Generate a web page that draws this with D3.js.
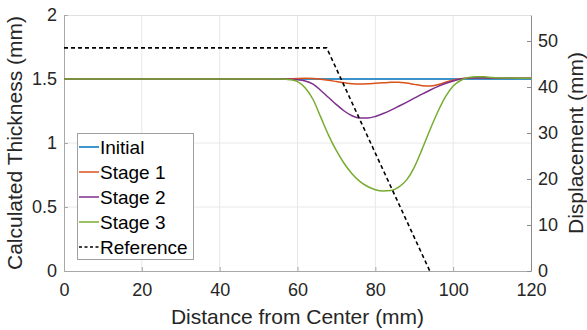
<!DOCTYPE html>
<html>
<head>
<meta charset="utf-8">
<script src="https://cdn.jsdelivr.net/npm/d3@7"></script>
<style>
  html, body { margin: 0; padding: 0; background: #fff; }
  svg { display: block; font-family: "Liberation Sans", Arial, Helvetica, sans-serif; }
</style>
</head>
<body>
<svg id="chart" width="587" height="330"></svg>
<script>
// Distance from center (mm) sampled for the thickness profiles
const distance = [0, 50, 56, 58, 60, 62, 64, 66, 68, 70, 72, 74, 76, 78, 80, 82, 84, 86, 88, 90,
                  92, 94, 96, 98, 100, 102, 104, 106, 108, 110, 115, 120];

// Calculated thickness (mm) per forming stage
const initial = distance.map(() => 1.5);
const stage1 = [1.5, 1.5, 1.5, 1.502, 1.504, 1.505, 1.503, 1.498, 1.49, 1.48, 1.47, 1.462, 1.46, 1.462,
                1.466, 1.47, 1.474, 1.475, 1.468, 1.458, 1.448, 1.445, 1.455, 1.475, 1.49, 1.502,
                1.508, 1.51, 1.509, 1.507, 1.505, 1.505];
const stage2 = [1.5, 1.5, 1.5, 1.498, 1.495, 1.485, 1.46, 1.41, 1.355, 1.30, 1.25, 1.213, 1.195, 1.195,
                1.207, 1.23, 1.257, 1.287, 1.318, 1.35, 1.382, 1.412, 1.44, 1.465, 1.485, 1.50,
                1.508, 1.51, 1.509, 1.507, 1.505, 1.505];
const stage3 = [1.5, 1.5, 1.5, 1.495, 1.48, 1.43, 1.34, 1.2, 1.06, 0.94, 0.84, 0.76, 0.70, 0.66,
                0.635, 0.625, 0.628, 0.655, 0.71, 0.81, 0.95, 1.10, 1.24, 1.36, 1.445, 1.49,
                1.512, 1.518, 1.517, 1.512, 1.507, 1.505];

// Reference displacement path (mm), right axis
const refDistance = [0, 67.5, 94];
const refDisplacement = [48.5, 48.5, 0];

// Axis ticks
const xTicks = [0, 20, 40, 60, 80, 100, 120];
const yLeftTicks = [0, 0.5, 1, 1.5, 2];
const yRightTicks = [0, 10, 20, 30, 40, 50];

const series = [
  { name: "Initial", values: initial, color: "#0072BD" },
  { name: "Stage 1", values: stage1, color: "#D95319" },
  { name: "Stage 2", values: stage2, color: "#7E2F8E" },
  { name: "Stage 3", values: stage3, color: "#77AC30" }
];

const margin = { left: 64, right: 56, top: 15, bottom: 59 };
const W = 587, H = 330;
const iw = W - margin.left - margin.right;
const ih = H - margin.top - margin.bottom;

const svg = d3.select("#chart");
const g = svg.append("g").attr("transform", `translate(${margin.left},${margin.top})`);

const x = d3.scaleLinear().domain([0, 120]).range([0, iw]);
const yL = d3.scaleLinear().domain([0, 2]).range([ih, 0]);
const yR = d3.scaleLinear().domain([0, 55.65]).range([ih, 0]);

const textColor = "#262626";

// Grid
g.append("g").selectAll("line").data(xTicks.slice(1, -1)).join("line")
  .attr("x1", d => x(d)).attr("x2", d => x(d)).attr("y1", 0).attr("y2", ih)
  .attr("stroke", "#e8e8e8").attr("stroke-width", 1);
g.append("g").selectAll("line").data(yLeftTicks.slice(1, -1)).join("line")
  .attr("y1", d => yL(d)).attr("y2", d => yL(d)).attr("x1", 0).attr("x2", iw)
  .attr("stroke", "#e8e8e8").attr("stroke-width", 1);

// Top border of the box
g.append("line").attr("x1", 0).attr("x2", iw).attr("y1", 0.5).attr("y2", 0.5)
  .attr("stroke", "#e0e0e0");

// Axes
function styleAxis(sel, color) {
  sel.select(".domain").attr("stroke", color);
  sel.selectAll(".tick line").attr("stroke", color);
  sel.selectAll(".tick text").attr("fill", textColor).attr("font-size", 18);
}
const xAxis = g.append("g").attr("transform", `translate(0,${ih})`)
  .call(d3.axisBottom(x).tickValues(xTicks).tickSizeInner(-4).tickSizeOuter(0).tickPadding(12));
styleAxis(xAxis, "#a8a8a8");

const yAxisL = g.append("g")
  .call(d3.axisLeft(yL).tickValues(yLeftTicks).tickFormat(d3.format("")).tickSizeInner(-4).tickSizeOuter(0).tickPadding(7));
styleAxis(yAxisL, "#a8a8a8");

const yAxisR = g.append("g").attr("transform", `translate(${iw},0)`)
  .call(d3.axisRight(yR).tickValues(yRightTicks).tickSizeInner(-4).tickSizeOuter(0).tickPadding(7));
styleAxis(yAxisR, "#8a8a8a");

// Axis titles
svg.append("text").attr("x", margin.left + iw / 2).attr("y", 324)
  .attr("text-anchor", "middle").attr("fill", textColor).attr("font-size", 21)
  .text("Distance from Center (mm)");
svg.append("text").attr("transform", `translate(22,${margin.top + ih / 2}) rotate(-90)`)
  .attr("text-anchor", "middle").attr("fill", textColor).attr("font-size", 21)
  .text("Calculated Thickness (mm)");
svg.append("text").attr("transform", `translate(583,${margin.top + ih / 2}) rotate(-90)`)
  .attr("text-anchor", "middle").attr("fill", textColor).attr("font-size", 21)
  .text("Displacement (mm)");

// Clip for data lines
svg.append("defs").append("clipPath").attr("id", "plotClip")
  .append("rect").attr("x", 0).attr("y", 0).attr("width", iw).attr("height", ih);
const plot = g.append("g").attr("clip-path", "url(#plotClip)");

const lineL = d3.line().x((d, i) => x(distance[i])).y(d => yL(d)).curve(d3.curveMonotoneX);
series.forEach(s => {
  plot.append("path").datum(s.values)
    .attr("d", lineL).attr("fill", "none")
    .attr("stroke", s.color).attr("stroke-width", 1.5);
});

const lineR = d3.line().x((d, i) => x(refDistance[i])).y(d => yR(d));
plot.append("path").datum(refDisplacement)
  .attr("d", lineR).attr("fill", "none")
  .attr("stroke", "#000").attr("stroke-width", 1.6).attr("stroke-dasharray", "4,3");

// Legend
const lg = svg.append("g").attr("transform", "translate(77,133)");
lg.append("rect").attr("x", 0.5).attr("y", 0.5).attr("width", 116).attr("height", 126)
  .attr("fill", "#fff").attr("stroke", "#a0a0a0").attr("stroke-width", 1);
const legendItems = series.map(s => ({ name: s.name, color: s.color, dash: null }))
  .concat([{ name: "Reference", color: "#000", dash: "3,2.5" }]);
legendItems.forEach((d, i) => {
  const yy = 14 + i * 25;
  lg.append("line").attr("x1", 2).attr("x2", 22).attr("y1", yy).attr("y2", yy)
    .attr("stroke", d.color).attr("stroke-width", 1.5)
    .attr("stroke-dasharray", d.dash);
  lg.append("text").attr("x", 23).attr("y", yy).attr("dy", "0.35em")
    .attr("fill", "#000").attr("font-size", 19).text(d.name);
});
</script>
</body>
</html>
